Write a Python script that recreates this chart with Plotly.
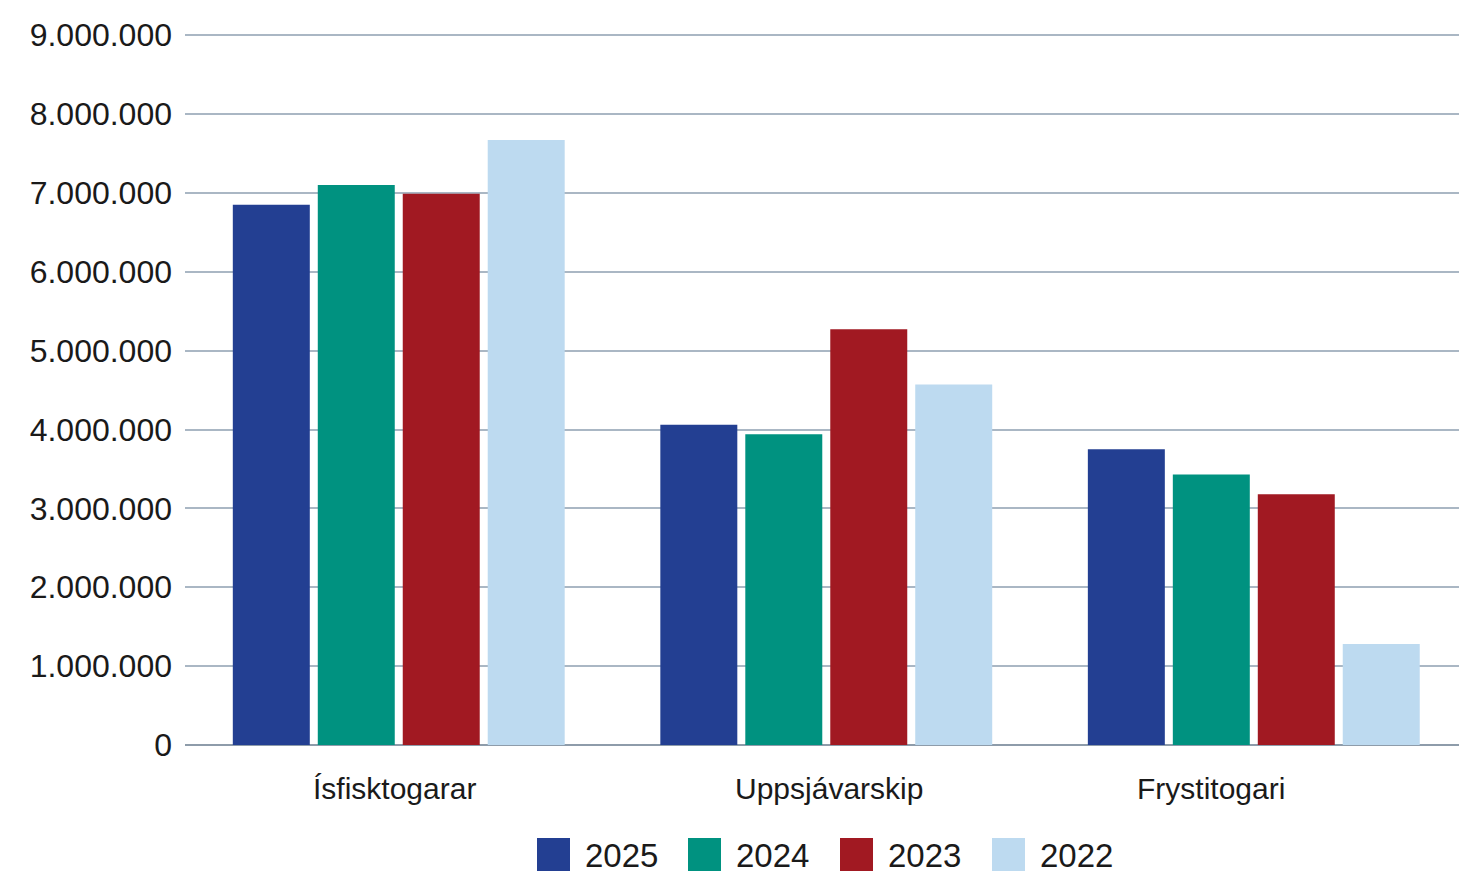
import plotly.graph_objects as go

categories = ["Ísfisktogarar", "Uppsjávarskip", "Frystitogari"]
years = ["2025", "2024", "2023", "2022"]
values_2025 = [6850000, 4060000, 3750000]
values_2024 = [7100000, 3940000, 3430000]
values_2023 = [6990000, 5270000, 3180000]
values_2022 = [7670000, 4570000, 1280000]
y_ticks = [0, 1000000, 2000000, 3000000, 4000000, 5000000, 6000000, 7000000, 8000000, 9000000]

colors = ["#233F92", "#009280", "#A11922", "#BDDAF0"]
series = [values_2025, values_2024, values_2023, values_2022]

FONT = "Liberation Sans"
TEXT = "#1A1A1A"

fig = go.Figure()

for name, vals, col in zip(years, series, colors):
    fig.add_trace(
        go.Bar(
            name=name,
            x=categories,
            y=vals,
            marker_color=col,
            marker_line_width=0,
            showlegend=False,
        )
    )

shapes = []
annotations = []

# Category labels (the original sets them slightly off the group centres)
label_shift = [-4, 3, -43]
for cat, dx in zip(categories, label_shift):
    annotations.append(
        dict(
            text=cat, xref="x", yref="paper",
            x=cat, y=-(788 - 745) / 711, xshift=dx,
            xanchor="center", yanchor="middle", showarrow=False,
            font=dict(family=FONT, size=30, color=TEXT),
        )
    )

# Custom legend: big square swatches + labels under the chart
swatch_x = [537, 688, 840, 992]
for i, (name, col) in enumerate(zip(years, colors)):
    x0 = swatch_x[i]
    shapes.append(
        dict(
            type="rect", xref="paper", yref="paper",
            x0=(x0 - 185) / 1274, x1=(x0 + 33 - 185) / 1274,
            y0=-(871 - 745) / 711, y1=-(838 - 745) / 711,
            fillcolor=col, line_width=0,
        )
    )
    annotations.append(
        dict(
            text=name, xref="paper", yref="paper",
            x=(x0 + 46 - 185) / 1274, y=-(855 - 745) / 711,
            xanchor="left", yanchor="middle", showarrow=False,
            font=dict(family=FONT, size=33, color=TEXT),
        )
    )

fig.update_layout(
    width=1459,
    height=874,
    barmode="group",
    bargap=0.205,
    bargroupgap=0.094,
    separators=",.",
    plot_bgcolor="white",
    paper_bgcolor="white",
    margin=dict(l=185, r=0, t=34, b=129),
    font=dict(family=FONT, color=TEXT),
    xaxis=dict(
        range=[-0.5, 2.48],
        showticklabels=False,
        showgrid=False,
        ticks="",
    ),
    yaxis=dict(
        range=[0, 9015000],
        tickvals=y_ticks,
        tickformat=",d",
        tickfont=dict(size=32, color=TEXT),
        showgrid=True,
        gridcolor="#AAB7C4",
        gridwidth=1.5,
        zeroline=True,
        zerolinecolor="#8E9CAA",
        zerolinewidth=1.5,
        ticks="",
        ticklabelstandoff=12,
    ),
    shapes=shapes,
    annotations=annotations,
)

fig.write_html(
    "out.html",
    config={"displayModeBar": False},
    post_script="document.body.style.margin='0';",
)
